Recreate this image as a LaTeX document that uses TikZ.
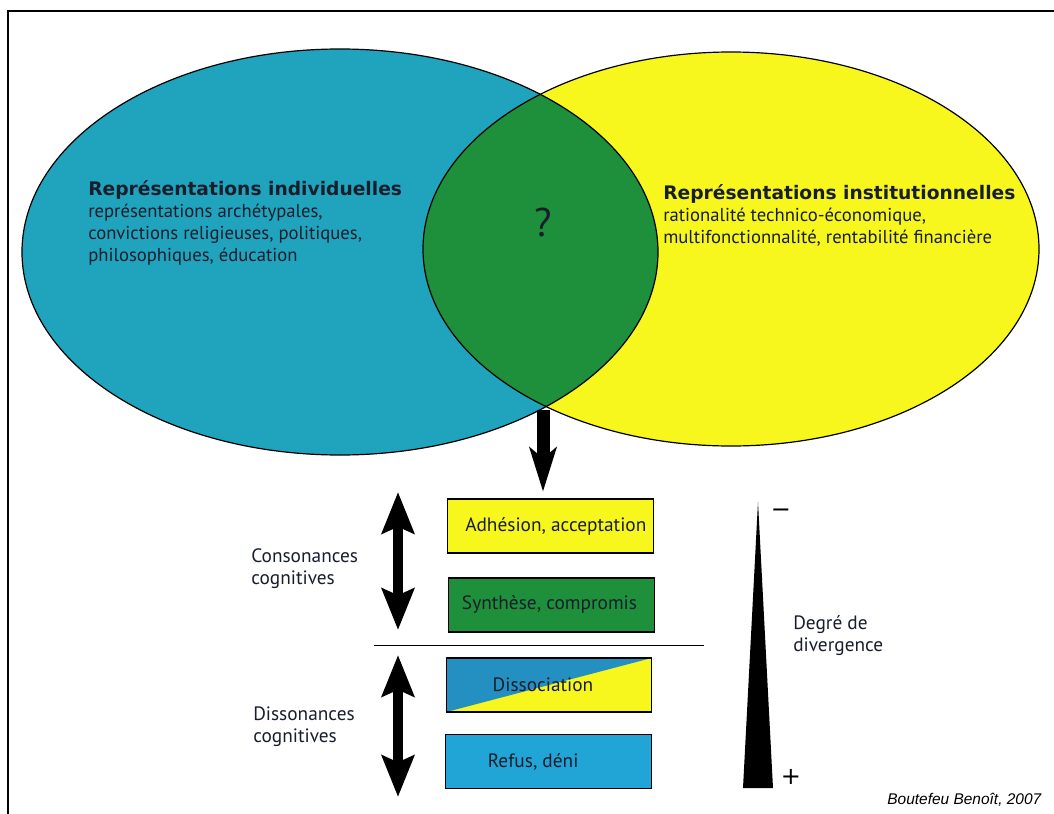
\documentclass[tikz,border=0pt]{standalone}
\usepackage{fontspec}
\setmainfont{PT Sans}
\newfontfamily\headfont{DejaVu Sans}
\newfontfamily\signfont{Liberation Sans}
\usetikzlibrary{arrows.meta, positioning}
\definecolor{indivblue}{RGB}{32,163,188}
\definecolor{instyellow}{RGB}{247,247,30}
\definecolor{mixgreen}{RGB}{30,143,58}
\definecolor{dissblue}{RGB}{36,144,194}
\definecolor{refusblue}{RGB}{33,164,214}
\definecolor{inkdark}{RGB}{25,30,45}

\begin{document}
\begin{tikzpicture}[
  x=0.75pt, y=-0.75pt,
  >=Stealth,
  bubble/.style={draw=black, line width=0.9pt},
  choice/.style={
    rectangle, draw=black, line width=0.9pt, inner sep=0pt,
    minimum width=154pt, minimum height=40.5pt,
    font=\fontsize{14.5}{17}\selectfont, text=inkdark
  },
  note/.style={font=\fontsize{14.5}{16.5}\selectfont, align=left, text=inkdark, inner sep=0pt},
  inside/.style={font=\fontsize{14}{16.5}\selectfont, align=left, text=inkdark, inner sep=0pt},
  signmark/.style={font=\headfont\fontsize{18}{18}\selectfont, inner sep=0pt},
  bigdown/.style={-{Stealth[length=33pt, width=20pt, inset=8pt]}, line width=9.75pt},
  swing/.style={{Stealth[length=31pt, width=24pt, inset=5pt]}-{Stealth[length=31pt, width=24pt, inset=5pt]}, line width=7.5pt},
]

\useasboundingbox (0,0) rectangle (1054,814);

% frame
\draw[line width=1.5pt] (1054,11) -- (8,11) -- (8,814);

% Venn of the two representations
\def\Lell{(340,252) ellipse [x radius=318, y radius=203]}
\def\Rell{(731,249) ellipse [x radius=308, y radius=197]}
\fill[indivblue] \Lell;
\fill[instyellow] \Rell;
\begin{scope}
  \clip \Lell;
  \fill[mixgreen] \Rell;
\end{scope}
\draw[bubble] \Lell;
\draw[bubble] \Rell;

\node[inside, anchor=north west] (indiv) at (88,180)
  {{\headfont\bfseries\fontsize{14}{16.5}\selectfont Représentations individuelles}\\
   représentations archétypales,\\
   convictions religieuses, politiques,\\
   philosophiques, éducation};
\node[inside, anchor=north west] (inst) at (663,184)
  {{\headfont\bfseries\fontsize{14}{16.5}\selectfont Représentations institutionnelles}\\
   rationalité technico-économique,\\
   multifonctionnalité, rentabilité financière};
\node[font=\fontsize{30}{30}\selectfont, text=inkdark] (quest) at (543,222) {?};

% outcomes
\coordinate (meet) at (543,410);
\node[choice, fill=instyellow] (adh) at (550.5,526) {\hspace*{8pt}Adhésion, acceptation};
\node[choice, fill=mixgreen]   (syn) at (551.5,605) {Synthèse, compromis\hspace*{3pt}};
\node[choice, fill=instyellow,
  path picture={\fill[dissblue] (path picture bounding box.north west)
    -- (path picture bounding box.north east)
    -- (path picture bounding box.south west) -- cycle;}]
  (dis) at (549,685) {Dissociation\hspace*{9pt}};
\node[choice, fill=refusblue]  (ref) at (548.5,761.5) {Refus, déni\hspace*{23pt}};

\draw[bigdown] (meet) -- ([yshift=5pt]meet |- adh.north);

\draw (374,645) -- (704,645);

% consonances / dissonances
\coordinate (consT) at (398,492);
\coordinate (consB) at (398,630);
\coordinate (dissT) at (398,655);
\coordinate (dissB) at (398,797);
\draw[swing] (consT) -- (consB);
\draw[swing] (dissT) -- (dissB);
\node[note, anchor=west] (cons) at (251,569) {Consonances\\cognitives};
\node[note, anchor=west] (diss) at (253,727) {Dissonances\\cognitives};

% degree of divergence
\fill (758,502) -- (773,788) -- (743,788) -- cycle;
\node[signmark] (less) at (781,513) {−};
\node[signmark] (more) at (791,777) {+};
\node[note, anchor=west] (degre) at (793,636) {Degré de\\divergence};

\node[font=\signfont\itshape\fontsize{11.6}{13}\selectfont, anchor=east] (sign) at (1046,800)
  {Boutefeu Benoît, 2007};

\end{tikzpicture}
\end{document}
